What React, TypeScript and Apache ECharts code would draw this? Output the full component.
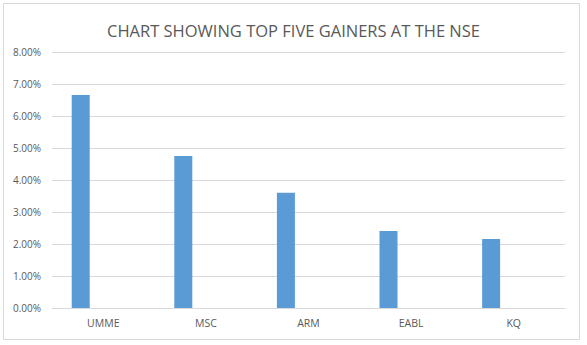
import React, { useEffect, useRef } from "react";
import * as echarts from "echarts";

const categories = ["UMME", "MSC", "ARM", "EABL", "KQ"];
const gainPct = [6.66, 4.75, 3.6, 2.41, 2.16];
const emptySeries: (number | null)[] = [null, null, null, null, null];
const yTicks = { min: 0, max: 8, interval: 1 };
const title = "CHART SHOWING TOP FIVE GAINERS AT THE NSE";

export default function App() {
  const ref = useRef<HTMLDivElement>(null);
  useEffect(() => {
    if (!ref.current) return;
    const chart = echarts.init(ref.current, undefined, { renderer: "svg" });
    chart.setOption({
      animation: false,
      backgroundColor: "#ffffff",
      title: {
        text: title,
        left: "center",
        top: 17,
        textStyle: {
          fontFamily: "Open Sans",
          fontWeight: "normal",
          fontSize: 16.5,
          color: "#595959",
        },
      },
      graphic: [
        {
          type: "rect",
          shape: { x: 3.5, y: 3.5, width: 576, height: 336 },
          style: { fill: "none", stroke: "#D9D9D9", lineWidth: 1 },
          silent: true,
        },
      ],
      grid: { left: 52, right: 22, top: 52, bottom: 37, containLabel: false },
      xAxis: {
        type: "category",
        data: categories,
        axisLine: { lineStyle: { color: "#D9D9D9" } },
        axisTick: { show: false },
        axisLabel: {
          color: "#595959",
          fontFamily: "Open Sans",
          fontSize: 10.5,
          margin: 9,
        },
      },
      yAxis: {
        type: "value",
        min: yTicks.min,
        max: yTicks.max,
        interval: yTicks.interval,
        axisLine: { show: false },
        axisTick: { show: false },
        splitLine: { lineStyle: { color: "#D9D9D9" } },
        axisLabel: {
          color: "#595959",
          fontFamily: "Open Sans",
          fontSize: 10,
          margin: 11,
          formatter: (v: number) => v.toFixed(2) + "%",
        },
      },
      series: [
        {
          type: "bar",
          data: gainPct,
          barWidth: 18,
          barGap: "151%",
          itemStyle: { color: "#5B9BD5" },
        },
        {
          type: "bar",
          data: emptySeries,
          barWidth: 18,
          itemStyle: { color: "#ED7D31" },
        },
      ],
    });
    return () => chart.dispose();
  }, []);
  return (
    <div
      ref={ref}
      style={{ position: "absolute", left: 0, top: 0, width: 587, height: 345 }}
    />
  );
}
